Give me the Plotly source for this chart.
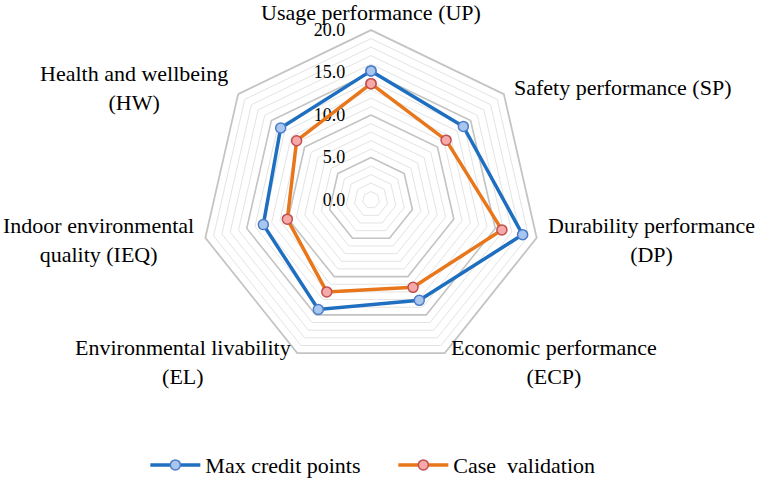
import math
import plotly.graph_objects as go

NB = "\u00a0"
categories = ["UP", "SP", "DP", "ECP", "EL", "IEQ", "HW"]
category_labels = [
    "Usage performance (UP)",
    "Safety performance (SP)",
    "Durability performance<br>(DP)",
    "Economic performance<br>(ECP)",
    "Environmental livability<br>(EL)",
    "Indoor environmental<br>quality (IEQ)",
    "Health and wellbeing<br>(HW)",
]
max_credit = [15.2, 13.9, 18.3, 13.1, 14.3, 13.0, 13.6]
case_validation = [13.7, 11.3, 15.8, 11.4, 12.0, 10.1, 11.2]
radial_ticks = list(range(0, 21))
major_rings = [5, 10, 15]
tick_text = [f"{v:.1f}" + NB * 5 if v % 5 == 0 else "" for v in radial_ticks]

FONT = "Liberation Serif"
W, H = 757, 478
DOM_X = [0.2655, 0.7147]
DOM_Y = [0.226, 0.937]

fig = go.Figure()

theta_closed = categories + [categories[0]]
for ring in major_rings:
    fig.add_trace(go.Scatterpolar(
        r=[ring] * len(theta_closed), theta=theta_closed, mode="lines",
        line=dict(color="#c4c4c4", width=1.6), hoverinfo="skip", showlegend=False,
    ))

fig.add_trace(go.Scatterpolar(
    r=max_credit + [max_credit[0]], theta=theta_closed, mode="lines+markers",
    name="Max credit points",
    line=dict(color="#1f6fc0", width=3.5),
    marker=dict(size=10, color="#a9c6ef", line=dict(color="#4a7cc9", width=1.5)),
))
fig.add_trace(go.Scatterpolar(
    r=case_validation + [case_validation[0]], theta=theta_closed, mode="lines+markers",
    name="Case" + NB + " validation",
    line=dict(color="#e8761a", width=3.5),
    marker=dict(size=10, color="#f5a9a9", line=dict(color="#c0504d", width=1.5)),
))

# category labels placed just outside each vertex of the polar frame (Excel style)
cx = (DOM_X[0] + DOM_X[1]) / 2
cy = (DOM_Y[0] + DOM_Y[1]) / 2
radius_px = min((DOM_X[1] - DOM_X[0]) * W, (DOM_Y[1] - DOM_Y[0]) * H) / 2
side_pad = 10
top_pad = 3
n = len(categories)
for i, lab in enumerate(category_labels):
    ang = 2 * math.pi * i / n
    s, c = math.sin(ang), math.cos(ang)
    is_side = abs(s) >= 0.1
    dist = radius_px + (side_pad if is_side else top_pad)
    xa = "center" if not is_side else ("left" if s > 0 else "right")
    ya = "middle" if is_side else ("bottom" if c > 0 else "top")
    fig.add_annotation(
        text=lab, xref="paper", yref="paper",
        x=cx + dist * s / W, y=cy + dist * c / H,
        xanchor=xa, yanchor=ya, align="center", showarrow=False,
        font=dict(family=FONT, size=22, color="black"),
    )

fig.update_layout(
    width=W, height=H,
    margin=dict(l=0, r=0, t=0, b=0, autoexpand=False),
    paper_bgcolor="white", plot_bgcolor="white",
    font=dict(family=FONT, size=22, color="black"),
    polar=dict(
        domain=dict(x=DOM_X, y=DOM_Y),
        gridshape="linear",
        bgcolor="white",
        radialaxis=dict(
            range=[0, 20], tickvals=radial_ticks, ticktext=tick_text,
            angle=90, tickangle=90, showline=False, ticks="", gridcolor="#e3e3e3", gridwidth=1,
            tickfont=dict(family=FONT, size=18, color="black"),
            layer="below traces", side="counterclockwise",
        ),
        angularaxis=dict(
            direction="clockwise", rotation=90, showgrid=False,
            showline=True, linecolor="#c4c4c4", linewidth=1.8, ticks="",
            showticklabels=False,
        ),
    ),
    legend=dict(
        orientation="h", x=0.192, xanchor="left", y=0.027, yanchor="middle",
        font=dict(family=FONT, size=22, color="black"),
        entrywidth=183, entrywidthmode="pixels", itemwidth=50,
    ),
)

fig.write_html("out.html")
